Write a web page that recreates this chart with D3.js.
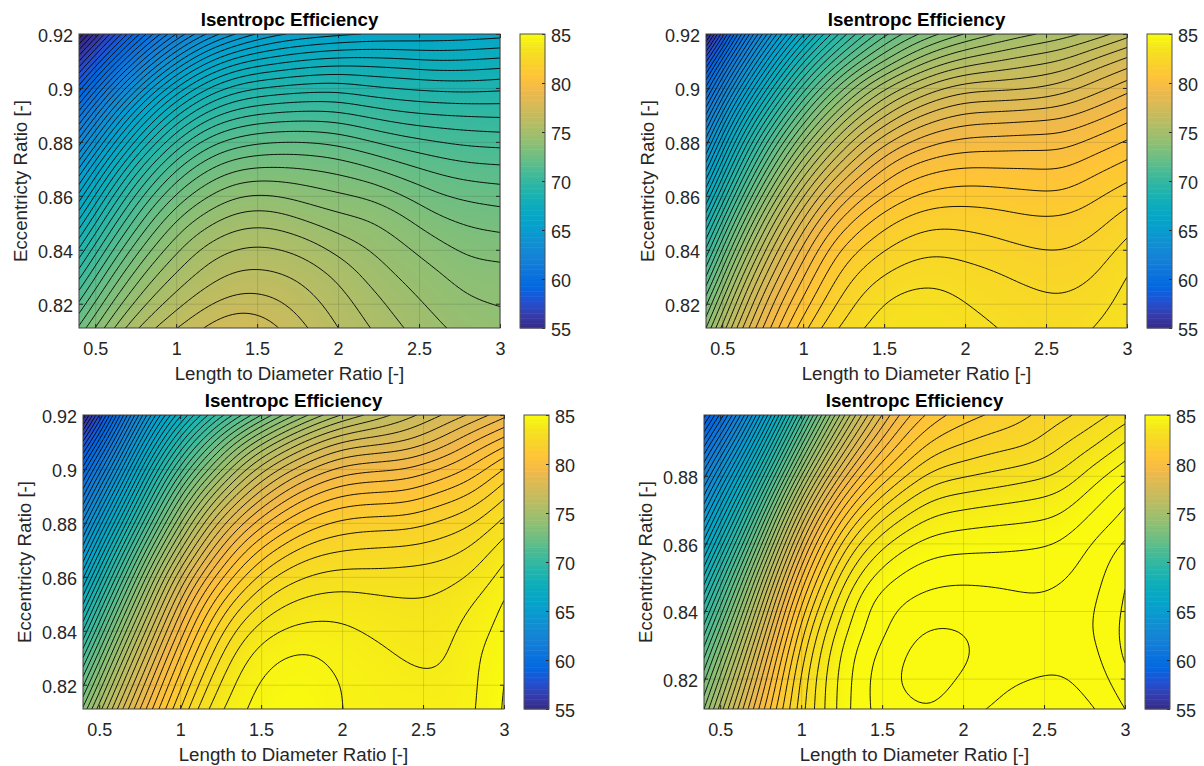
<!DOCTYPE html>
<html lang="en">
<head>
  <meta charset="UTF-8">
  <title>Isentropc Efficiency</title>
  <style>
    body { margin: 0; background: #fff; }
    svg { display: block; }
    text { font-family: "Liberation Sans", Arial, sans-serif; fill: #262626; }
    .title { font-weight: bold; fill: #000; }
  </style>
  <script src="https://d3js.org/d3.v7.min.js"></script>
</head>
<body>
  <svg id="chart" width="1204" height="766"></svg>
  <script>
    // grid nodes the efficiency was read at
    const lengthNodes = [0.4, 0.6, 0.8, 1.0, 1.2, 1.4, 1.6, 1.8, 2.0, 2.2, 2.4, 2.6, 2.8, 3.0];
    const eccTall = [0.92, 0.811];
    const eccShort = [0.898, 0.811];

    const xTicks = [0.5, 1, 1.5, 2, 2.5, 3];
    const yTicksTall = [0.82, 0.84, 0.86, 0.88, 0.9, 0.92];
    const yTicksShort = [0.82, 0.84, 0.86, 0.88];
    const barTicks = [55, 60, 65, 70, 75, 80, 85];

    // efficiency, rows run from top of the plot to bottom
    const effTopLeft = [
      [54.1, 57.2, 59.9, 62.1, 63.7, 64.7, 65.4, 65.7, 65.9, 66.05, 66.1, 66.15, 66.2, 66.3],
      [56.5, 59.5, 62.2, 64.4, 66, 66.95, 67.3, 67.6, 67.75, 67.75, 67.65, 67.5, 67.55, 67.65],
      [58.7, 61.8, 64.5, 66.6, 68.1, 68.85, 69.1, 69.25, 69.3, 69.05, 68.95, 68.85, 68.8, 68.9],
      [60.8, 63.9, 66.5, 68.5, 69.8, 70.4, 70.6, 70.7, 70.65, 70.35, 70.1, 70, 69.95, 69.9],
      [62.7, 65.7, 68.2, 70.1, 71.3, 71.8, 72, 72, 71.85, 71.5, 71.2, 71, 70.85, 70.8],
      [64.5, 67.4, 69.8, 71.5, 72.5, 73, 73.05, 73, 72.85, 72.55, 72.15, 71.85, 71.65, 71.6],
      [66.1, 68.9, 71.1, 72.6, 73.5, 74, 74, 73.75, 73.55, 73.4, 73, 72.55, 72.35, 72.25],
      [67.6, 70.2, 72.2, 73.6, 74.4, 74.85, 74.85, 74.5, 74.2, 74.05, 73.65, 73.15, 72.9, 72.8],
      [69, 71.4, 73.2, 74.4, 75.2, 75.55, 75.55, 75.3, 74.8, 74.45, 74.1, 73.7, 73.35, 73.28],
      [70.3, 72.5, 74.1, 75.1, 75.8, 76.15, 76.1, 75.85, 75.4, 74.8, 74.4, 74.1, 73.75, 73.7],
      [71.5, 73.5, 74.9, 75.8, 76.4, 76.7, 76.6, 76.2, 75.75, 75.2, 74.7, 74.35, 74.05, 73.95],
      [72.6, 74.45, 75.75, 76.5, 77.1, 77.6, 77.1, 76.53, 76, 75.5, 75, 74.6, 74.3, 74.2]
    ];
    const effTopRight = [
      [55.2, 60.3, 64, 67, 69.4, 71.2, 72.5, 73.4, 74.05, 74.55, 74.95, 75.25, 75.7, 76.3],
      [58, 62.4, 66, 69, 71.2, 72.8, 74.1, 75.1, 75.7, 76, 76.3, 76.5, 77.15, 77.7],
      [60.1, 64.4, 67.9, 70.8, 73, 74.8, 76, 76.85, 77.3, 77.35, 77.4, 77.7, 78.25, 78.8],
      [62, 66.3, 69.7, 72.5, 74.7, 76.3, 77.5, 78.2, 78.6, 78.65, 78.75, 78.85, 79.25, 79.75],
      [63.7, 68, 71.4, 74.1, 76.2, 77.8, 78.8, 79.4, 79.65, 79.7, 79.75, 79.75, 80.15, 80.55],
      [65.3, 69.5, 72.9, 75.6, 77.6, 79, 80, 80.4, 80.55, 80.5, 80.5, 80.45, 80.85, 81.2],
      [66.9, 71, 74.4, 77, 78.9, 80.1, 80.8, 81.15, 81.25, 81.2, 81.1, 81.05, 81.4, 81.75],
      [68.5, 72.5, 75.8, 78.2, 80, 81, 81.6, 81.9, 81.85, 81.75, 81.6, 81.6, 81.8, 82.25],
      [70, 73.9, 77, 79.2, 80.9, 81.7, 82.2, 82.4, 82.3, 82.15, 82, 81.95, 82.15, 82.65],
      [71.4, 75.2, 78, 80, 81.5, 82.3, 82.7, 82.85, 82.7, 82.55, 82.35, 82.25, 82.45, 83],
      [72.8, 76.3, 78.9, 80.7, 82, 82.8, 83.2, 83.25, 83, 82.8, 82.65, 82.55, 82.75, 83.2],
      [74, 77.3, 79.6, 81.4, 82.5, 83.1, 83.4, 83.4, 83.2, 83, 82.8, 82.75, 83, 83.35]
    ];
    const effBottomLeft = [
      [55.1, 59.9, 64.3, 67.5, 69.9, 71.7, 73.3, 74.6, 75.6, 76.2, 76.8, 77.45, 78.1, 78.85],
      [57.6, 61.8, 66.1, 69.5, 72, 74.1, 75.6, 76.8, 77.6, 77.8, 78, 78.6, 79.5, 80.25],
      [59.7, 63.6, 67.9, 71.3, 73.8, 76, 77.5, 78.5, 79.2, 79.4, 79.5, 80, 80.6, 81.55],
      [61.4, 65.4, 69.5, 73, 75.6, 77.6, 79, 80, 80.55, 80.65, 80.7, 81.15, 81.55, 82.4],
      [63.1, 67.1, 71.1, 74.5, 77.2, 79.1, 80.4, 81.25, 81.65, 81.75, 81.75, 82.05, 82.4, 83.15],
      [64.7, 68.8, 72.7, 76, 78.6, 80.5, 81.6, 82.25, 82.47, 82.55, 82.6, 82.75, 83.05, 83.75],
      [66.3, 70.4, 74.2, 77.5, 79.9, 81.6, 82.6, 83.05, 83.2, 83.15, 83.2, 83.25, 83.5, 84.2],
      [67.9, 71.9, 75.5, 78.7, 81.1, 82.6, 83.4, 83.7, 83.75, 83.65, 83.55, 83.58, 83.95, 84.55],
      [69.4, 73.3, 76.7, 79.7, 82, 83.4, 84, 84.15, 84.1, 83.9, 83.75, 83.75, 84.2, 84.7],
      [70.9, 74.6, 77.8, 80.6, 82.7, 84, 84.5, 84.6, 84.3, 84.15, 83.92, 83.85, 84.35, 84.9],
      [72.3, 75.8, 78.8, 81.4, 83.3, 84.35, 84.75, 84.85, 84.45, 84.3, 84.15, 84.05, 84.35, 85],
      [73.6, 76.9, 79.7, 82.1, 83.8, 84.5, 84.95, 84.95, 84.45, 84.3, 84.3, 84.25, 84.35, 85.05]
    ];
    const effBottomRight = [
      [58.3, 61.9, 66.1, 70.5, 74.5, 77.5, 79.6, 80.75, 81.3, 81.6, 81.95, 82.35, 82.75, 83.25],
      [60.2, 63.7, 67.9, 72.3, 76.1, 78.8, 80.5, 81.6, 81.95, 82.25, 82.35, 82.9, 83.3, 84],
      [61.9, 65.5, 69.7, 74.1, 77.7, 80.1, 81.5, 82.45, 82.7, 82.9, 83.1, 83.35, 84.1, 84.7],
      [63.5, 67.2, 71.5, 75.9, 79.3, 81.4, 82.6, 83.4, 83.6, 83.75, 83.9, 84.05, 84.7, 85.35],
      [65, 68.8, 73.2, 77.5, 80.7, 82.6, 83.6, 84.2, 84.35, 84.45, 84.5, 84.6, 85.2, 85.7],
      [66.5, 70.4, 74.7, 78.9, 81.9, 83.6, 84.45, 84.85, 84.92, 84.95, 85, 85.1, 85.6, 86.15],
      [68, 71.9, 76.1, 80.1, 82.8, 84.4, 85.05, 85.35, 85.42, 85.35, 85.35, 85.4, 85.75, 86.45],
      [69.4, 73.2, 77.3, 81.1, 83.5, 85, 85.5, 85.7, 85.7, 85.7, 85.55, 85.6, 85.9, 86.55],
      [70.7, 74.4, 78.3, 81.9, 84.05, 85.1, 85.7, 86.05, 86, 85.8, 85.7, 85.7, 85.95, 86.65],
      [71.9, 75.5, 79.2, 82.45, 84.35, 85.4, 85.9, 86.4, 86.15, 85.7, 85.7, 85.6, 85.8, 86.6],
      [73, 76.5, 79.9, 82.8, 84.45, 85.5, 86.05, 86.35, 85.85, 85.65, 85.5, 85.4, 85.65, 86.3],
      [74, 77.4, 80.5, 82.9, 84.45, 85.55, 85.8, 86.05, 85.6, 85.48, 85.1, 85.25, 85.4, 86]
    ];

    // old matlab parula, every third entry
    const parula = ["#352a87", "#353dad", "#2053d4", "#0268e1", "#0d75dc", "#1481d6", "#108ed2", "#079dcf",
      "#06a7c6", "#0faeb9", "#25b5a9", "#42ba98", "#65be86", "#87bf77", "#a5be6b", "#c0bc60", "#d9ba56",
      "#f1b94a", "#ffc337", "#f9d32a", "#f5e41d", "#f9fb0e"];
    const color = d3.scaleSequential(d3.piecewise(d3.interpolateRgb, parula)).domain([55, 85]).clamp(true);

    const lineLevels = d3.range(50, 90, 0.5);
    const fillLevels = d3.range(50, 85, 0.1);

    const panels = [
      { rows: effTopLeft, ecc: eccTall, yTicks: yTicksTall, left: 79, top: 34 },
      { rows: effTopRight, ecc: eccTall, yTicks: yTicksTall, left: 706, top: 34 },
      { rows: effBottomLeft, ecc: eccTall, yTicks: yTicksTall, left: 83, top: 415 },
      { rows: effBottomRight, ecc: eccShort, yTicks: yTicksShort, left: 704, top: 415 }
    ];

    const plotW = 421, plotH = 294;
    const svg = d3.select("#chart");

    // basis spline through the read values, only so the contours come out smooth
    function smoothGrid(rows, k) {
      const along = arr => {
        const f = d3.interpolateBasis(arr);
        const n = (arr.length - 1) * k;
        return d3.range(n + 1).map(i => f(i / n));
      };
      const fine = d3.transpose(d3.transpose(rows.map(along)).map(along));
      return { width: fine[0].length, height: fine.length, values: fine.flat() };
    }

    panels.forEach((p, i) => {
      const g = svg.append("g").attr("transform", `translate(${p.left},${p.top})`);
      const x = d3.scaleLinear().domain([0.4, 3]).range([0, plotW]);
      const y = d3.scaleLinear().domain([p.ecc[1], p.ecc[0]]).range([plotH, 0]);

      const grid = smoothGrid(p.rows, 8);
      const gx = d3.scaleLinear().domain([0.5, grid.width - 0.5]).range([lengthNodes[0], lengthNodes[lengthNodes.length - 1]]);
      const gy = d3.scaleLinear().domain([0.5, grid.height - 0.5]).range(p.ecc);
      const path = d3.geoPath(d3.geoTransform({
        point(a, b) { this.stream.point(x(gx(a)), y(gy(b))); }
      }));
      const contours = d3.contours().size([grid.width, grid.height]);

      const clipId = "clip" + i;
      g.append("clipPath").attr("id", clipId).append("rect").attr("width", plotW).attr("height", plotH);
      const field = g.append("g").attr("clip-path", `url(#${clipId})`);

      field.append("rect").attr("width", plotW).attr("height", plotH).attr("fill", color(55));
      field.selectAll("path.fill")
        .data(contours.thresholds(fillLevels)(grid.values))
        .join("path")
        .attr("class", "fill")
        .attr("d", path)
        .attr("fill", d => color(d.value + 0.05));

      field.selectAll("path.line")
        .data(contours.thresholds(lineLevels)(grid.values))
        .join("path")
        .attr("class", "line")
        .attr("d", path)
        .attr("fill", "none")
        .attr("stroke", "#000")
        .attr("stroke-width", 0.9);

      // faint grid on top of the surface
      const gridX = g.append("g").attr("transform", `translate(0,${plotH})`)
        .call(d3.axisBottom(x).tickValues(xTicks).tickSize(-plotH).tickFormat(""));
      const gridY = g.append("g")
        .call(d3.axisLeft(y).tickValues(p.yTicks).tickSize(-plotW).tickFormat(""));
      [gridX, gridY].forEach(a => {
        a.select(".domain").remove();
        a.selectAll("line").attr("stroke", "#262626").attr("stroke-opacity", 0.15);
      });

      const bottom = g.append("g").attr("transform", `translate(0,${plotH})`)
        .call(d3.axisBottom(x).tickValues(xTicks).tickSizeInner(-4).tickSizeOuter(0).tickPadding(14).tickFormat(d => String(d)));
      const left = g.append("g")
        .call(d3.axisLeft(y).tickValues(p.yTicks).tickSizeInner(-4).tickSizeOuter(0).tickPadding(6).tickFormat(d => String(d)));
      const topAxis = g.append("g")
        .call(d3.axisTop(x).tickValues(xTicks).tickSizeInner(-4).tickSizeOuter(0).tickFormat(""));
      const right = g.append("g").attr("transform", `translate(${plotW},0)`)
        .call(d3.axisRight(y).tickValues(p.yTicks).tickSizeInner(-4).tickSizeOuter(0).tickFormat(""));
      [bottom, left, topAxis, right].forEach(a => {
        a.select(".domain").remove();
        a.selectAll("line").attr("stroke", "#262626");
        a.selectAll("text").attr("font-size", 18);
        a.attr("font-family", null);
      });
      left.selectAll("text").attr("dy", "0.44em");

      g.append("rect").attr("width", plotW).attr("height", plotH)
        .attr("fill", "none").attr("stroke", "#404040").attr("stroke-width", 1);

      g.append("text").attr("class", "title")
        .attr("x", plotW / 2).attr("y", -8)
        .attr("text-anchor", "middle").attr("font-size", 18.7)
        .text("Isentropc Efficiency");
      g.append("text")
        .attr("x", plotW / 2).attr("y", plotH + 52)
        .attr("text-anchor", "middle").attr("font-size", 18.7)
        .text("Length to Diameter Ratio [-]");
      g.append("text")
        .attr("transform", `translate(-52,${plotH / 2}) rotate(-90)`)
        .attr("text-anchor", "middle").attr("font-size", 18.7)
        .text("Eccentricty Ratio [-]");

      // colorbar
      const bar = g.append("g").attr("transform", `translate(${plotW + 20},0)`);
      const barW = 25;
      const barY = d3.scaleLinear().domain([55, 85]).range([plotH, 0]);
      const steps = d3.range(55, 85, 0.25);
      bar.selectAll("rect.step").data(steps).join("rect")
        .attr("class", "step")
        .attr("width", barW)
        .attr("y", d => barY(d + 0.25))
        .attr("height", d => barY(d) - barY(d + 0.25) + 0.5)
        .attr("fill", d => color(d + 0.125));
      const barAxis = bar.append("g").attr("transform", `translate(${barW},0)`)
        .call(d3.axisRight(barY).tickValues(barTicks).tickSizeInner(-3).tickSizeOuter(0).tickPadding(6));
      barAxis.select(".domain").remove();
      barAxis.selectAll("line").attr("stroke", "#262626");
      barAxis.selectAll("text").attr("font-size", 18).attr("dy", "0.44em");
      barAxis.attr("font-family", null);
      bar.append("rect").attr("width", barW).attr("height", plotH)
        .attr("fill", "none").attr("stroke", "#505050").attr("stroke-width", 1);
    });
  </script>
</body>
</html>
